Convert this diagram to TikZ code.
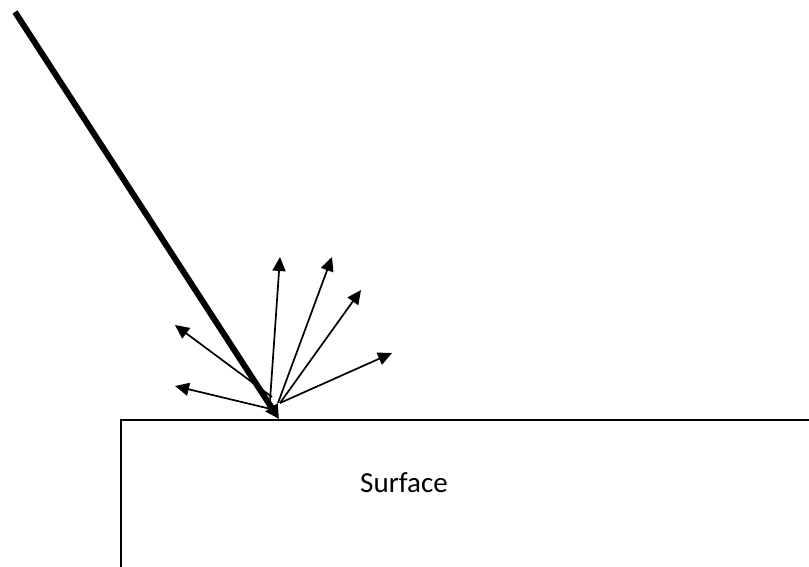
\documentclass[tikz,border=0pt]{standalone}
\usepackage{fontspec}
\setmainfont{Carlito}
\usetikzlibrary{arrows.meta}
\begin{document}
\begin{tikzpicture}[x=1pt,y=-1pt,
  ray/.style={line width=1.7pt,-{Triangle[length=14pt,width=13pt]}},
  beam/.style={line width=6pt,-{Triangle[length=14pt,width=14pt]}}]
\useasboundingbox (0,0) rectangle (809,567);
% surface block
\draw[line width=2.6pt] (121,568) -- (121,420) -- (810,420);
\node[anchor=base,font=\fontsize{29}{34}\selectfont] (lbl) at (404,492) {Surface};
% scattered rays
\foreach \n/\sx/\sy/\tx/\ty in {1/275/410/175/386,2/272/397/175/325,3/270/401/280/257,4/278/403/332/257,5/280/403/361/290,6/280/403/392/353}{
\coordinate (s\n) at (\sx,\sy);
\coordinate (t\n) at (\tx,\ty);
\draw[ray] (s\n) -- (t\n);
}
% incoming beam
\coordinate (src) at (15,12);
\coordinate (hit) at (279,419);
\draw[beam] (src) -- (hit);
\end{tikzpicture}
\end{document}
